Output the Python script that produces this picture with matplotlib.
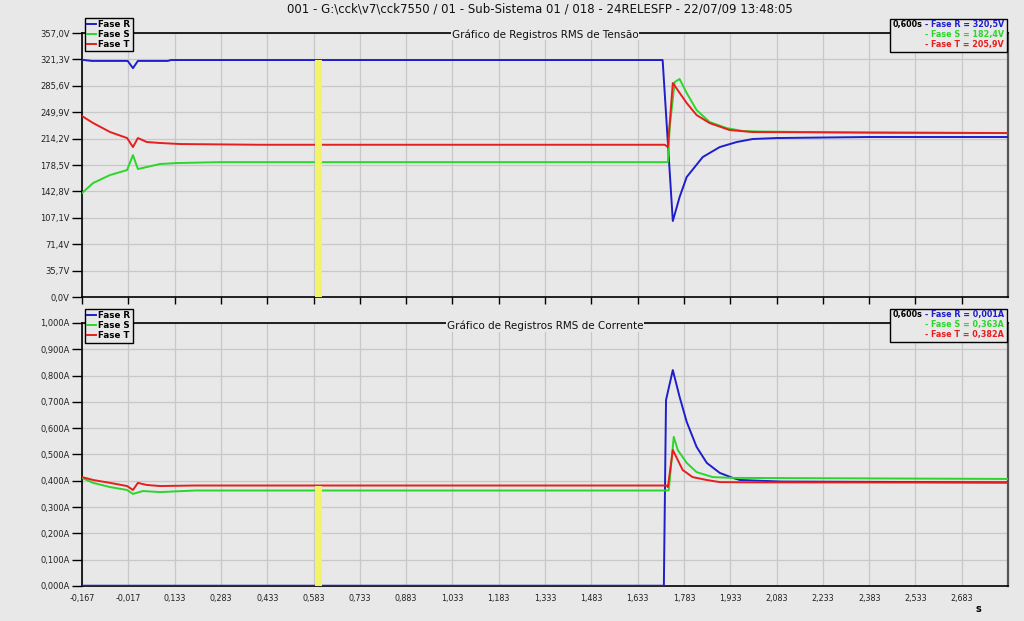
import matplotlib
matplotlib.use("Agg")
import matplotlib.pyplot as plt
from matplotlib.patches import Rectangle

# --- dados ---
titulo = r"001 - G:\cck\v7\cck7550 / 01 - Sub-Sistema 01 / 018 - 24RELESFP - 22/07/09 13:48:05"
fases = ['Fase R', 'Fase S', 'Fase T']
cores = ['#1E1ECC', '#2BD62B', '#E61E1E']

# Tensão (V)
t_vr = [-0.167, -0.135, -0.019, -0.002, 0.014, 0.111, 0.121, 1.714, 1.747, 1.769, 1.792, 1.844, 1.899, 1.954, 2.006, 2.083, 2.385, 2.833]
vr = [320.8, 319.3, 319.3, 309.5, 319.3, 319.3, 320.5, 320.5, 102.8, 135.2, 162.3, 189.3, 202.8, 209.6, 213.7, 215.0, 216.4, 216.4]
t_vs = [-0.167, -0.131, -0.076, -0.021, -0.002, 0.014, 0.043, 0.086, 0.141, 0.280, 1.731, 1.737, 1.753, 1.769, 1.792, 1.824, 1.866, 1.921, 1.973, 2.028, 2.385, 2.833]
vs = [140.6, 154.2, 165.0, 171.7, 192.0, 173.1, 175.8, 179.9, 181.2, 182.4, 182.4, 230.0, 290.7, 294.8, 275.9, 252.9, 236.7, 228.5, 224.5, 223.8, 222.2, 221.9]
t_vt = [-0.167, -0.131, -0.076, -0.021, -0.002, 0.014, 0.043, 0.086, 0.151, 0.410, 1.721, 1.731, 1.747, 1.792, 1.824, 1.866, 1.931, 2.006, 2.833]
vt = [244.7, 235.3, 223.1, 215.0, 202.8, 215.0, 209.6, 208.3, 206.9, 205.9, 205.9, 202.8, 289.4, 262.3, 246.1, 235.3, 225.8, 223.1, 221.7]

# Corrente (A)
t_ir = [-0.167, 1.718, 1.725, 1.747, 1.769, 1.792, 1.824, 1.857, 1.899, 1.941, 1.964, 2.100, 2.833]
ir = [0.001, 0.001, 0.707, 0.821, 0.719, 0.624, 0.529, 0.468, 0.430, 0.411, 0.403, 0.397, 0.394]
t_is = [-0.167, -0.131, -0.076, -0.021, -0.002, 0.030, 0.086, 0.200, 1.731, 1.734, 1.750, 1.763, 1.792, 1.824, 1.876, 1.941, 2.833]
is_ = [0.411, 0.392, 0.376, 0.365, 0.350, 0.361, 0.357, 0.363, 0.363, 0.365, 0.567, 0.517, 0.468, 0.433, 0.414, 0.411, 0.407]
t_it = [-0.167, -0.131, -0.076, -0.021, -0.002, 0.014, 0.043, 0.086, 0.200, 1.727, 1.731, 1.747, 1.779, 1.811, 1.857, 1.899, 2.006, 2.833]
it = [0.414, 0.403, 0.392, 0.380, 0.365, 0.392, 0.384, 0.380, 0.382, 0.382, 0.376, 0.517, 0.441, 0.414, 0.403, 0.395, 0.394, 0.393]

cursor_t = 0.600
cursor_v = [320.5, 182.4, 205.9]
cursor_i = [0.001, 0.363, 0.382]

x_ticks = [-0.167 + 0.15 * k for k in range(20)]
v_ticks = [35.7 * k for k in range(11)]
i_ticks = [0.1 * k for k in range(11)]

fundo = '#E8E8E8'
plt.rcParams['font.family'] = ['DejaVu Sans']

fig = plt.figure(figsize=(10.24, 6.21), dpi=100, facecolor=fundo)
ax1 = fig.add_axes([0.0801, 0.5217, 0.9043, 0.4251])
ax2 = fig.add_axes([0.0801, 0.0564, 0.9043, 0.4235])


def estilo(ax, yticks, fmt, ymax):
    ax.set_facecolor(fundo)
    ax.set_xlim(-0.167, 2.833)
    ax.set_ylim(0, ymax)
    ax.set_xticks(x_ticks)
    ax.set_yticks(yticks)
    ax.set_yticklabels([fmt(v) for v in yticks], fontsize=6, color='#222222')
    ax.grid(True, color='#C8C8C8', linewidth=0.9)
    ax.set_axisbelow(True)
    ax.tick_params(axis='y', length=7, width=1, pad=2)
    for s in ['left', 'bottom', 'top']:
        ax.spines[s].set_color('black')
        ax.spines[s].set_linewidth(1.2)
    ax.spines['right'].set_color('#555555')
    ax.spines['right'].set_linewidth(1.6)


estilo(ax1, v_ticks, lambda v: f"{v:.1f}V".replace('.', ','), 357.0)
estilo(ax2, i_ticks, lambda v: f"{v:.3f}A".replace('.', ','), 1.0)
ax1.tick_params(axis='x', length=5, width=1, labelbottom=False)
ax2.tick_params(axis='x', length=0, pad=6)
ax2.set_xticklabels([f"{t:.3f}".replace('.', ',') for t in x_ticks], fontsize=5.8, color='#222222')

for t, v, c, n in zip([t_vr, t_vs, t_vt], [vr, vs, vt], cores, fases):
    ax1.plot(t, v, color=c, linewidth=1.4, label=n, zorder=3)
for t, v, c, n in zip([t_ir, t_is, t_it], [ir, is_, it], cores, fases):
    ax2.plot(t, v, color=c, linewidth=1.4, label=n, zorder=3)

# cursor amarelo
ax1.bar(cursor_t, max(cursor_v), width=0.022, color='#F3F36A', zorder=4)
ax2.bar(cursor_t, max(cursor_i), width=0.022, color='#F3F36A', zorder=4)

for ax, top in [(ax1, 1.057), (ax2, 1.053)]:
    leg = ax.legend(loc='upper left', bbox_to_anchor=(0.003, top),
                    prop={'weight': 'bold', 'size': 6.3}, handlelength=1.0,
                    handletextpad=0.3, borderpad=0.25, labelspacing=0.12,
                    borderaxespad=0, fancybox=False, framealpha=1)
    leg.get_frame().set_edgecolor('black')
    leg.get_frame().set_facecolor(fundo)
    leg.set_zorder(10)

ax1.text(0.5, 0.995, "Gráfico de Registros RMS de Tensão", transform=ax1.transAxes,
         ha='center', va='center', fontsize=7.5, color='#111111', zorder=6,
         bbox=dict(facecolor=fundo, edgecolor='none', pad=0.5))
ax2.text(0.5, 0.99, "Gráfico de Registros RMS de Corrente", transform=ax2.transAxes,
         ha='center', va='center', fontsize=7.5, color='#111111', zorder=6,
         bbox=dict(facecolor=fundo, edgecolor='none', pad=0.5))

fig.text(0.527, 0.9855, titulo, ha='center', va='center', fontsize=8.5, color='#111111')
fig.text(0.955, 0.020, 's', ha='center', va='center', fontsize=7, weight='bold')

# caixas de valores no cursor
W, H = 1024, 621
renderer = fig.canvas.get_renderer()
for y0, vals, unid, fmtv in [(19, cursor_v, 'V', '{:.1f}'), (309, cursor_i, 'A', '{:.3f}')]:
    linhas = []
    for k, (n, c, v) in enumerate(zip(fases, cores, vals)):
        txt = f"- {n} = " + fmtv.format(v).replace('.', ',') + unid
        linhas.append(fig.text(1004 / W, 1 - (y0 + 6 + 10 * k) / H, txt, ha='right', va='center',
                               fontsize=5.8, weight='bold', color=c, zorder=11))
    x_esq = linhas[0].get_window_extent(renderer).x0
    cur = fig.text(x_esq / W - 2 / W, 1 - (y0 + 6) / H, f"{cursor_t:.3f}s".replace('.', ','),
                   ha='right', va='center', fontsize=5.8, weight='bold', color='black', zorder=11)
    x0 = cur.get_window_extent(renderer).x0 - 3
    fig.patches.append(Rectangle((x0 / W, 1 - (y0 + 33) / H), (1007 - x0) / W, 33 / H,
                                 transform=fig.transFigure, facecolor=fundo,
                                 edgecolor='black', linewidth=1, zorder=10))

fig.savefig('out.png', dpi=100, facecolor=fundo)
